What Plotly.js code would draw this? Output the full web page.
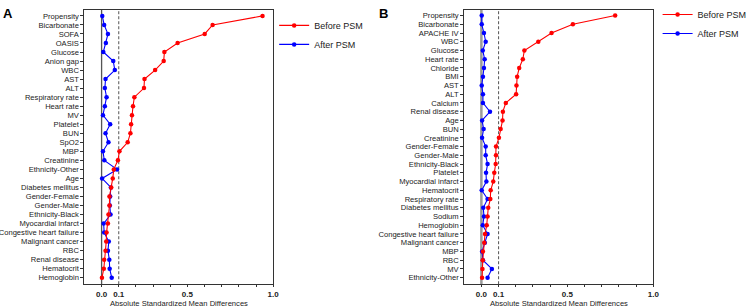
<!DOCTYPE html>
<html><head><meta charset="utf-8">
<script src="https://cdn.plot.ly/plotly-3.0.1.min.js"></script>
<style>html,body{margin:0;padding:0;background:#fff}#c{width:752px;height:307px}</style>
</head><body><div id="c"></div>
<script>
const catsA = ["Propensity","Bicarbonate","SOFA","OASIS","Glucose","Anion gap","WBC","AST","ALT","Respiratory rate","Heart rate","MV","Platelet","BUN","SpO2","MBP","Creatinine","Ethnicity-Other","Age","Diabetes mellitus","Gender-Female","Gender-Male","Ethnicity-Black","Myocardial infarct","Congestive heart failure","Malignant cancer","RBC","Renal disease","Hematocrit","Hemoglobin"];
const beforeA = [0.938,0.647,0.601,0.443,0.366,0.362,0.312,0.250,0.247,0.191,0.183,0.177,0.172,0.168,0.152,0.104,0.095,0.071,0.065,0.056,0.046,0.046,0.040,0.037,0.029,0.027,0.023,0.015,0.013,0.002];
const afterA = [0.004,0.015,0.037,0.025,0.010,0.068,0.077,0.023,0.019,0.029,0.019,0.008,0.050,0.023,0.040,0.008,0.016,0.090,0.003,0.054,0.050,0.048,0.052,0.012,0.015,0.042,0.037,0.045,0.047,0.059];

const catsB = ["Propensity","Bicarbonate","APACHE IV","WBC","Glucose","Heart rate","Chloride","BMI","AST","ALT","Calcium","Renal disease","Age","BUN","Creatinine","Gender-Female","Gender-Male","Ethnicity-Black","Platelet","Myocardial infarct","Hematocrit","Respiratory rate","Diabetes mellitus","Sodium","Hemoglobin","Congestive heart failure","Malignant cancer","MBP","RBC","MV","Ethnicity-Other"];
const beforeB = [0.778,0.532,0.408,0.331,0.250,0.241,0.220,0.208,0.204,0.202,0.142,0.125,0.123,0.112,0.102,0.085,0.085,0.083,0.075,0.069,0.054,0.052,0.040,0.036,0.031,0.021,0.017,0.009,0.008,0.006,0.004];
const afterB = [0.002,0.002,0.015,0.025,0.008,0.019,0.015,0.009,0.002,0.009,0.009,0.050,0.004,0.013,0.004,0.025,0.025,0.036,0.027,0.029,0.002,0.036,0.011,0.015,0.008,0.036,0.020,0.004,0.009,0.061,0.036];

const tickVals = [0,0.1,0.2,0.3,0.4,0.5,0.6,0.7,0.8,0.9,1.0];
const tickText = ["0.0","0.1","","","","0.5","","","","","1.0"];
const xTitle = 'Absolute Standardized Mean Differences';

const W = 752, H = 307;
const FAM = 'Liberation Sans, Arial, sans-serif';
const RED = '#ff0000', BLUE = '#0000ff';
function tr(x, y, color, name, xa, ya, lg, rank){
  return {x:x, y:y, xaxis:xa, yaxis:ya, type:'scatter', mode:'lines+markers', name:name,
    legend:lg, legendrank:rank, line:{color:color, width:1.1}, marker:{color:color, size:4.5}, hoverinfo:'x+y'};
}
const data = [
  tr(afterA, catsA, BLUE, 'After PSM', 'x', 'y', 'legend', 2),
  tr(beforeA, catsA, RED, 'Before PSM', 'x', 'y', 'legend', 1),
  tr(afterB, catsB, BLUE, 'After PSM', 'x2', 'y2', 'legend2', 2),
  tr(beforeB, catsB, RED, 'Before PSM', 'x2', 'y2', 'legend2', 1)
];
const tickFont = {family:FAM, size:7.6, color:'#222'};
function xax(dom){
  return {domain:dom, range:[-0.1,1.0], tickmode:'array', tickvals:tickVals, ticktext:tickText,
    ticks:'outside', ticklen:2, tickwidth:1, tickcolor:'#333', showgrid:false, zeroline:false,
    showline:true, mirror:true, linecolor:'#333', linewidth:1,
    tickfont:{family:FAM, size:8, color:'#222', weight:'bold'}};
}
function yax(cats, range, dom, anchor){
  return {domain:dom, anchor:anchor, type:'category', categoryorder:'array', categoryarray:cats,
    tickmode:'array', tickvals:cats, ticktext:cats, range:range,
    ticks:'outside', ticklen:3, tickwidth:1, tickcolor:'#333', showgrid:false, zeroline:false,
    showline:true, mirror:true, linecolor:'#333', linewidth:1, tickfont:tickFont, automargin:false};
}
const yTop = 1 - 7/H, yBot = 1 - 284/H;
const layout = {
  width:W, height:H, margin:{l:0,r:0,t:0,b:0}, paper_bgcolor:'#fff', plot_bgcolor:'#fff',
  font:{family:FAM, color:'#222'},
  xaxis: Object.assign(xax([85/W, 275/W]), {anchor:'y'}),
  yaxis: yax(catsA, [29.72,-0.66], [yBot, yTop], 'x'),
  xaxis2: Object.assign(xax([467.3/W, 657.7/W]), {anchor:'y2'}),
  yaxis2: yax(catsB, [30.75,-0.64], [yBot, yTop], 'x2'),
  showlegend:true,
  legend:{x:276/W, y:1-8/H, xanchor:'left', yanchor:'top', bgcolor:'rgba(0,0,0,0)', font:{family:FAM, size:9, color:'#222'}, tracegroupgap:0},
  legend2:{x:662/W, y:1+3/H, xanchor:'left', yanchor:'top', bgcolor:'rgba(0,0,0,0)', font:{family:FAM, size:9, color:'#222'}, tracegroupgap:0},
  shapes:[
    {type:'line', xref:'x', yref:'y domain', x0:0, x1:0, y0:0, y1:1, line:{color:'#555', width:1.3}, layer:'below'},
    {type:'line', xref:'x', yref:'y domain', x0:0.1, x1:0.1, y0:0, y1:1, line:{color:'#555', width:1, dash:'3px,2px'}, layer:'below'},
    {type:'line', xref:'x2', yref:'y2 domain', x0:0, x1:0, y0:0, y1:1, line:{color:'#9a9a9a', width:2.5}, layer:'below'},
    {type:'line', xref:'x2', yref:'y2 domain', x0:0.1, x1:0.1, y0:0, y1:1, line:{color:'#555', width:1, dash:'3px,2px'}, layer:'below'}
  ],
  annotations:[
    {text:'<b>A</b>', xref:'paper', yref:'paper', x:1/W, y:1-1/H, xanchor:'left', yanchor:'top', showarrow:false, font:{family:FAM, size:13, color:'#000'}},
    {text:'<b>B</b>', xref:'paper', yref:'paper', x:380/W, y:1-1/H, xanchor:'left', yanchor:'top', showarrow:false, font:{family:FAM, size:13, color:'#000'}},
    {text:xTitle, xref:'x domain', yref:'paper', x:0.5, y:1-303.3/H, xanchor:'center', yanchor:'middle', showarrow:false, font:{family:FAM, size:7.6, color:'#222'}},
    {text:xTitle, xref:'x2 domain', yref:'paper', x:0.5, y:1-303.3/H, xanchor:'center', yanchor:'middle', showarrow:false, font:{family:FAM, size:7.6, color:'#222'}}
  ]
};
Plotly.newPlot('c', data, layout, {staticPlot:true, displayModeBar:false});
</script></body></html>
